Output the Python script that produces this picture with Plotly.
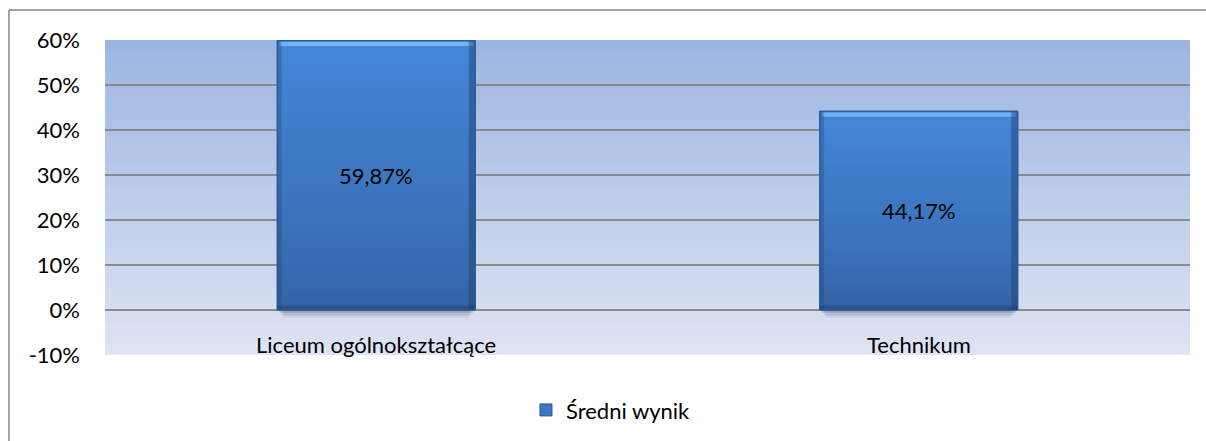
import plotly.graph_objects as go

# --- data ---------------------------------------------------------------
categories = ["Liceum ogólnokształcące", "Technikum"]
values = [59.87, 44.17]
value_labels = ["59,87%", "44,17%"]
series_name = "Średni wynik"
y_ticks = [-10, 0, 10, 20, 30, 40, 50, 60]
y_tick_labels = ["-10%", "0%", "10%", "20%", "30%", "40%", "50%", "60%"]

# --- styling --------------------------------------------------------------
FONT = "Lato"
FS = 22
BAR_WIDTH = 0.365
GRID = "#8a8a8a"
BG_TOP = (0x9c, 0xb5, 0xe1)
BG_BOTTOM = (0xdd, 0xe4, 0xf3)
BAR_TOP = (0x44, 0x87, 0xd8)
BAR_BOTTOM = (0x34, 0x63, 0xa5)


def mix(c1, c2, t):
    return "rgb({},{},{})".format(*[round(a + (b - a) * t) for a, b in zip(c1, c2)])


x_pos = list(range(len(categories)))

fig = go.Figure()
fig.add_trace(go.Bar(
    x=x_pos, y=values, width=BAR_WIDTH, name=series_name,
    marker=dict(color="#3d77c6", line=dict(color="#2b5893", width=1)),
    hoverinfo="skip", showlegend=True,
))

shapes = []

# vertical gradient of the plot background, drawn under the grid
n_bg = 90
for i in range(n_bg):
    t = i / n_bg
    shapes.append(dict(
        type="rect", xref="x domain", yref="y domain", layer="below",
        x0=0, x1=1, y0=t, y1=min(1, (i + 1.6) / n_bg),
        fillcolor=mix(BG_BOTTOM, BG_TOP, t), line=dict(width=0),
    ))

# bevelled, gradient-filled bars with a soft drop shadow
n_bar = 40
for xc, v in zip(x_pos, values):
    x0, x1 = xc - BAR_WIDTH / 2, xc + BAR_WIDTH / 2
    # shadow under the bar
    for k, (dy, op) in enumerate([(0.6, 0.22), (1.2, 0.14), (1.8, 0.08)]):
        shapes.append(dict(
            type="rect", xref="x", yref="y", layer="between",
            x0=x0 + 0.004 * (k + 1), x1=x1 - 0.004 * (k + 1), y0=-dy, y1=0,
            fillcolor=f"rgba(60,70,90,{op})", line=dict(width=0),
        ))
    for i in range(n_bar):
        t = i / n_bar
        shapes.append(dict(
            type="rect", xref="x", yref="y", layer="above",
            x0=x0, x1=x1, y0=v * t, y1=min(v, v * (i + 1.5) / n_bar),
            fillcolor=mix(BAR_BOTTOM, BAR_TOP, t ** 0.8), line=dict(width=0),
        ))
    # top highlight
    shapes.append(dict(type="rect", xref="x", yref="y", layer="above",
                       x0=x0 + 0.004, x1=x1 - 0.004, y0=v - 1.2, y1=v - 0.3,
                       fillcolor="rgba(120,185,245,0.9)", line=dict(width=0)))
    # darker side and bottom edges
    shapes.append(dict(type="rect", xref="x", yref="y", layer="above",
                       x0=x1 - 0.012, x1=x1, y0=0, y1=v,
                       fillcolor="rgba(30,60,110,0.45)", line=dict(width=0)))
    shapes.append(dict(type="rect", xref="x", yref="y", layer="above",
                       x0=x0, x1=x0 + 0.008, y0=0, y1=v,
                       fillcolor="rgba(30,60,110,0.30)", line=dict(width=0)))
    shapes.append(dict(type="rect", xref="x", yref="y", layer="above",
                       x0=x0, x1=x1, y0=0, y1=1.0,
                       fillcolor="rgba(30,60,110,0.40)", line=dict(width=0)))
    shapes.append(dict(type="rect", xref="x", yref="y", layer="above",
                       x0=x0, x1=x1, y0=0, y1=v,
                       fillcolor="rgba(0,0,0,0)", line=dict(color="#2b5893", width=1)))

# chart frame (top and left edges)
shapes.append(dict(type="line", xref="paper", yref="paper",
                   x0=-0.0885, x1=1.04, y0=1.0952, y1=1.0952,
                   line=dict(color="#868686", width=1.5)))
shapes.append(dict(type="line", xref="paper", yref="paper",
                   x0=-0.0885, x1=-0.0885, y0=1.0952, y1=-0.3,
                   line=dict(color="#868686", width=1.5)))

annotations = []
for xc, v, lab in zip(x_pos, values, value_labels):
    annotations.append(dict(x=xc, y=v / 2, xref="x", yref="y", text=lab,
                            showarrow=False, font=dict(family=FONT, size=FS, color="#000")))
for xc, cat in zip(x_pos, categories):
    annotations.append(dict(x=xc, y=-7.6, xref="x", yref="y", text=cat,
                            showarrow=False, yanchor="middle",
                            font=dict(family=FONT, size=FS, color="#000")))

fig.update_layout(
    width=1206, height=441,
    margin=dict(l=105, r=16, t=40, b=86, autoexpand=False),
    paper_bgcolor="white", plot_bgcolor="rgba(0,0,0,0)",
    font=dict(family=FONT, size=FS, color="#000"),
    shapes=shapes, annotations=annotations,
    bargap=0.635,
    xaxis=dict(range=[-0.5, 1.5], showticklabels=False, showgrid=False,
               zeroline=False, showline=False, fixedrange=True),
    yaxis=dict(range=[-10, 60], tickvals=y_ticks, ticktext=y_tick_labels,
               showgrid=True, gridcolor=GRID, gridwidth=1.5, zeroline=False,
               showline=False, ticks="", ticklabelstandoff=24, fixedrange=True,
               tickfont=dict(family=FONT, size=FS, color="#000")),
    legend=dict(orientation="h", x=0.388, y=-0.175, xanchor="left", yanchor="middle",
                font=dict(family=FONT, size=FS, color="#000"),
                itemwidth=30, bgcolor="rgba(0,0,0,0)"),
    showlegend=True,
)

fig.write_html("out.html")
